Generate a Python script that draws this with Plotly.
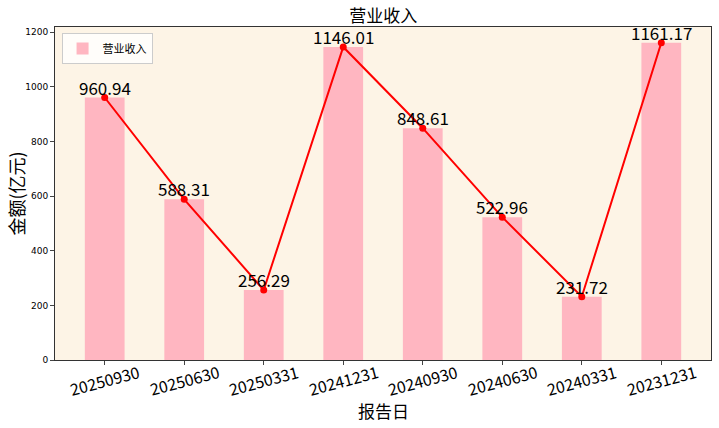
import plotly.graph_objects as go

report_dates = ["20250930", "20250630", "20250331", "20241231",
                "20240930", "20240630", "20240331", "20231231"]
revenue = [960.94, 588.31, 256.29, 1146.01, 848.61, 522.96, 231.72, 1161.17]
y_ticks = [0, 200, 400, 600, 800, 1000, 1200]

cjk = "Noto Sans CJK SC"

fig = go.Figure()
fig.add_trace(go.Bar(
    x=report_dates, y=revenue, name="营业收入",
    width=0.5, marker=dict(color="#FFB6C1", line=dict(width=0)),
))
fig.add_trace(go.Scatter(
    x=report_dates, y=revenue, mode="lines+markers",
    line=dict(color="red", width=2), marker=dict(color="red", size=7),
    showlegend=False, cliponaxis=False,
))

# value labels sitting on the points (category index as x)
for i, v in enumerate(revenue):
    fig.add_annotation(x=i, y=v, text=f"{v:.2f}", showarrow=False,
                       xanchor="center", yanchor="bottom", yshift=-4,
                       font=dict(family=cjk, size=17, color="black"))

# rotated tick labels centred under each tick
for i, d in enumerate(report_dates):
    fig.add_annotation(x=i, y=0, yref="paper", text=d, showarrow=False,
                       textangle=-15, xanchor="center", yanchor="middle", yshift=-20,
                       font=dict(family=cjk, size=16, color="black"))

fig.add_annotation(x=0.5, y=0, xref="paper", yref="paper", text="报告日",
                   showarrow=False, yanchor="middle", yshift=-50,
                   font=dict(family=cjk, size=17, color="black"))
fig.add_annotation(x=0, y=0.5, xref="paper", yref="paper", text="金额(亿元)",
                   showarrow=False, textangle=-90, xanchor="center", xshift=-40,
                   font=dict(family=cjk, size=18, color="black"))

fig.update_layout(
    width=719, height=428,
    margin=dict(l=55, r=8, t=27, b=68, autoexpand=False),
    paper_bgcolor="white", plot_bgcolor="#FDF4E6",
    font=dict(family=cjk, color="black"),
    title=dict(text="营业收入", x=0.533, xanchor="center", y=0.963, yanchor="middle",
               font=dict(family=cjk, size=17)),
    legend=dict(x=0.01, y=0.982, xanchor="left", yanchor="top",
                bgcolor="rgba(255,255,255,0.8)", bordercolor="#cccccc", borderwidth=1,
                font=dict(family=cjk, size=11), itemwidth=30),
)
fig.update_xaxes(
    type="category", range=[-0.625, 7.625], showticklabels=False,
    ticks="outside", ticklen=4, automargin=False,
    showline=True, mirror=True, linecolor="#333333", linewidth=1,
    showgrid=False, zeroline=False,
)
fig.update_yaxes(
    range=[0, 1219], tickvals=y_ticks, tickfont=dict(family="DejaVu Sans", size=9),
    ticks="outside", ticklen=4, automargin=False,
    showline=True, mirror=True, linecolor="#333333", linewidth=1,
    showgrid=False, zeroline=False,
)

fig.write_html("out.html", config={"displayModeBar": False},
               post_script="document.body.style.margin='0';")
